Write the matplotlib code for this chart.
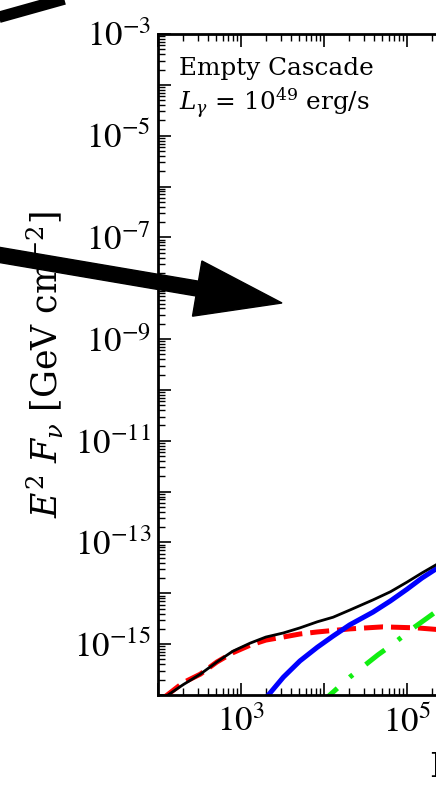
import numpy as np
import matplotlib
matplotlib.use('Agg')
import matplotlib.pyplot as plt
from matplotlib.patches import FancyArrow
from matplotlib.lines import Line2D
from matplotlib.ticker import LogLocator, FuncFormatter, NullFormatter

plt.rcParams['font.family'] = ['STIXGeneral', 'DejaVu Serif']
plt.rcParams['mathtext.fontset'] = 'stix'

# log10(E / GeV) and log10(E^2 F / GeV cm^-2) for each component
logE_total = [2.12, 2.30, 2.51, 2.71, 2.90, 3.11, 3.30, 3.51, 3.71, 3.92,
              4.11, 4.31, 4.59, 4.80, 5.00, 5.18, 5.35, 5.60]
logF_total = [-16.00, -15.80, -15.59, -15.35, -15.14, -14.98, -14.86, -14.78, -14.68, -14.56,
              -14.47, -14.33, -14.13, -13.97, -13.78, -13.60, -13.44, -13.20]

logE_prim = [2.08, 2.30, 2.51, 2.71, 2.90, 3.11, 3.30, 3.51, 3.71, 3.92,
             4.31, 4.71, 5.12, 5.35, 5.60]
logF_prim = [-16.04, -15.76, -15.59, -15.35, -15.17, -15.02, -14.92, -14.86, -14.80, -14.76,
             -14.70, -14.66, -14.68, -14.71, -14.76]

logE_casc = [3.25, 3.33, 3.51, 3.71, 3.92, 4.11, 4.31, 4.59, 4.80, 5.00, 5.18, 5.35, 5.60]
logF_casc = [-16.15, -16.00, -15.65, -15.33, -15.06, -14.84, -14.62, -14.37, -14.15, -13.92,
             -13.70, -13.52, -13.26]

logE_sec = [3.95, 4.07, 4.31, 4.65, 4.83, 5.06, 5.24, 5.35, 5.60]
logF_sec = [-16.19, -16.00, -15.65, -15.21, -15.00, -14.70, -14.49, -14.36, -14.06]

xlim = (1e2, 1e7)
ylim = (1e-16, 1e-3)

W, H = 436, 794
fig = plt.figure(figsize=(W / 100, H / 100), dpi=100)
ax = fig.add_axes([158 / W, 99 / H, 415 / W, 661 / H])

ax.plot(10 ** np.array(logE_prim), 10 ** np.array(logF_prim), color='#ff0000', lw=3.6,
        ls=(0, (3.8, 1.6)))
ax.plot(10 ** np.array(logE_casc), 10 ** np.array(logF_casc), color='#0000ff', lw=3.6)
ax.plot(10 ** np.array(logE_sec), 10 ** np.array(logF_sec), color='#11ee11', lw=3.6,
        ls=(0, (4.8, 3.3, 0.8, 3.3)))
ax.plot(10 ** np.array(logE_total), 10 ** np.array(logF_total), color='k', lw=2.0)

ax.set_xscale('log')
ax.set_yscale('log')
ax.set_xlim(*xlim)
ax.set_ylim(*ylim)


def odd_power(v, pos):
    e = int(round(np.log10(v)))
    return f'$10^{{{e}}}$' if e % 2 else ''


for axis in (ax.xaxis, ax.yaxis):
    axis.set_major_locator(LogLocator(base=10, numticks=30))
    axis.set_minor_locator(LogLocator(base=10, subs=np.arange(2, 10), numticks=30))
    axis.set_major_formatter(FuncFormatter(odd_power))
    axis.set_minor_formatter(NullFormatter())

ax.tick_params(which='both', direction='in', top=True, right=True, labelsize=25)
ax.tick_params(which='major', length=9, width=1.2)
ax.tick_params(which='minor', length=5, width=1.0)
ax.tick_params(axis='x', pad=8)
ax.tick_params(axis='y', pad=5)
for s in ax.spines.values():
    s.set_linewidth(2.0)

serif = dict(family='DejaVu Serif', math_fontfamily='dejavuserif')
ax.set_ylabel(r'$E^2\ F_\nu$ [GeV cm$^{-2}$]', fontsize=25, **serif)
ax.yaxis.set_label_coords((66 - 158) / 415, 0.5)
ax.set_xlabel('E [GeV]', fontsize=24, ha='left', **serif)
ax.xaxis.set_label_coords((430 - 158) / 415, (695 - 752) / 661)

ax.text((179 - 158) / 415, (695 - 75) / 661, 'Empty Cascade', transform=ax.transAxes,
        fontsize=17.8, va='baseline', **serif)
ax.text((179 - 158) / 415, (695 - 110) / 661, r'$L_\gamma$ = 10$^{49}$ erg/s',
        transform=ax.transAxes, fontsize=17.8, va='baseline', **serif)

# arrows coming in from the neighbouring panels (figure inches, y up)
tr = fig.dpi_scale_trans
x0, y0 = -0.30, (H - 249.9) / 100
tipx, tipy = 2.82, (H - 303) / 100
fig.add_artist(FancyArrow(x0, y0, tipx - x0, tipy - y0, width=0.15, head_width=0.56,
                          head_length=0.86, length_includes_head=True, color='k',
                          transform=tr, clip_on=False, zorder=10))
fig.add_artist(Line2D([-0.2, 0.8], [(H - 22.6) / 100, (H + 5.4) / 100], color='k', lw=8.3,
                      solid_capstyle='butt', transform=tr, clip_on=False, zorder=10))

fig.savefig('out.png', dpi=100)
